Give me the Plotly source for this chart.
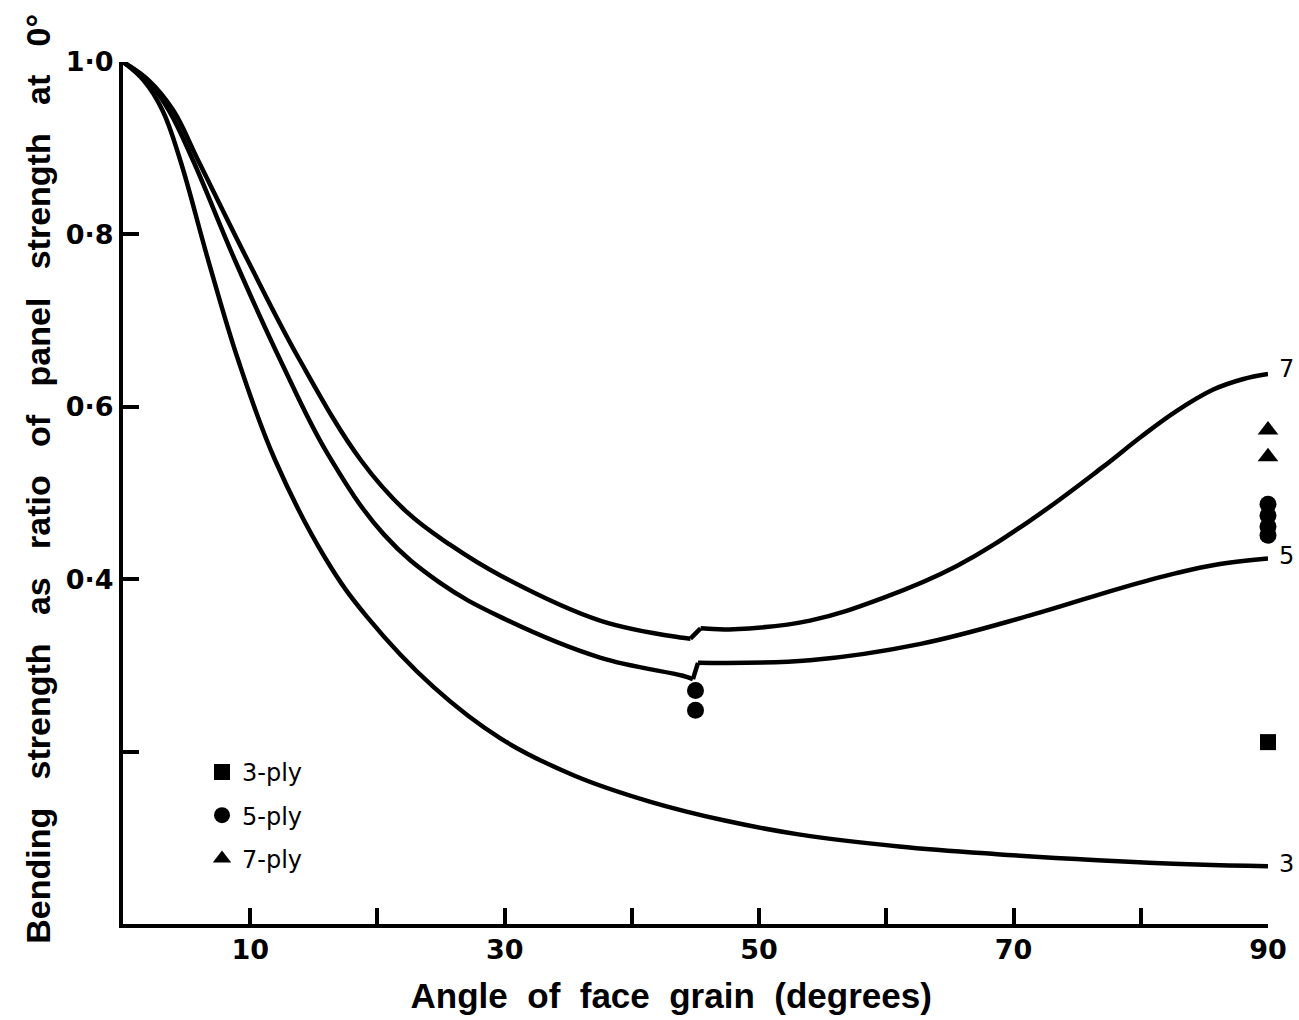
import plotly.graph_objects as go

# ---- data ----
angle_3 = [0, 1.6, 3.1, 4.5, 6.7, 9.06, 11.96, 16.0, 19.2, 24.4, 29.7, 35.5, 41.4, 47.3, 53.1, 61.0, 68.7, 76.6, 84.4, 90]
ratio_3 = [1.0, 0.979, 0.944, 0.886, 0.770, 0.654, 0.538, 0.422, 0.356, 0.275, 0.215, 0.172, 0.142, 0.120, 0.104, 0.090, 0.081, 0.074, 0.069, 0.067]

angle_5 = [0, 1.9, 3.6, 5.5, 8.8, 12.5, 16.1, 20.5, 24.9, 29.7, 37.5, 44.0, 44.8, 45.2, 54.0, 62.7, 71.3, 78.5, 82.8, 86.0, 90]
ratio_5 = [1.0, 0.979, 0.944, 0.886, 0.770, 0.650, 0.545, 0.452, 0.396, 0.356, 0.309, 0.288, 0.284, 0.303, 0.306, 0.325, 0.358, 0.390, 0.407, 0.417, 0.424]

angle_7 = [0, 2.0, 3.95, 5.9, 9.8, 13.9, 18.7, 22.3, 25.7, 29.7, 37.5, 44.0, 44.6, 45.4, 48.0, 54.0, 59.7, 65.5, 71.3, 77.0, 80.0, 82.8, 85.7, 88.0, 90]
ratio_7 = [1.0, 0.979, 0.944, 0.886, 0.770, 0.654, 0.538, 0.478, 0.440, 0.404, 0.352, 0.332, 0.331, 0.343, 0.342, 0.352, 0.378, 0.415, 0.468, 0.530, 0.565, 0.595, 0.620, 0.632, 0.638]

test3_angle = [90]
test3_ratio = [0.211]
test5_angle = [45, 45, 90, 90, 90, 90]
test5_ratio = [0.271, 0.248, 0.487, 0.474, 0.461, 0.451]
test7_angle = [90, 90]
test7_ratio = [0.573, 0.542]

curve_labels = ["3", "5", "7"]
legend_names = ["3-ply", "5-ply", "7-ply"]

x_tickvals = [10, 20, 30, 40, 50, 60, 70, 80, 90]
x_ticktext = ["10", "", "30", "", "50", "", "70", "", "90"]
y_tickvals = [0.2, 0.4, 0.6, 0.8, 1.0]
y_ticktext = ["", "0\u00b74", "0\u00b76", "0\u00b78", "1\u00b70"]

x_title = "Angle of face grain (degrees)"
y_title = "Bending strength as ratio of panel strength at 0\u00b0"

# ---- figure ----
INK = "#000000"
FONT = "Liberation Sans, Arial, sans-serif"
TICKFONT = "DejaVu Sans, Liberation Sans, sans-serif"
NB = "\u00a0"
ZW = "\u200b"

fig = go.Figure()


def add_curve(ang, rat):
    # split at the small step near 45 degrees (first rise in the data)
    step = None
    for i in range(1, len(rat) - 1):
        if rat[i + 1] > rat[i] + 0.005 and ang[i + 1] - ang[i] < 2:
            step = i
            break
    pieces = []
    if step is None:
        pieces.append((ang, rat, "spline"))
    else:
        pieces.append((ang[:step + 1], rat[:step + 1], "spline"))
        pieces.append((ang[step:step + 2], rat[step:step + 2], "linear"))
        pieces.append((ang[step + 1:], rat[step + 1:], "spline"))
    for a, r, shp in pieces:
        fig.add_trace(go.Scatter(
            x=a, y=r, mode="lines",
            line=dict(color=INK, width=4.5, shape=shp, smoothing=1.1),
            showlegend=False, hoverinfo="skip"))


for ang, rat in [(angle_3, ratio_3), (angle_5, ratio_5), (angle_7, ratio_7)]:
    add_curve(ang, rat)

symbols = ["square", "circle", "triangle-up"]
sizes = [16, 17, 18]
for name, xs, ys, sym, sz in zip(legend_names,
                                 [test3_angle, test5_angle, test7_angle],
                                 [test3_ratio, test5_ratio, test7_ratio],
                                 symbols, sizes):
    fig.add_trace(go.Scatter(
        x=xs, y=ys, mode="markers", name=name, legendgroup=name,
        marker=dict(symbol=sym, size=sz, color=INK, line=dict(width=0)),
        cliponaxis=False))

for lab, ang, rat, ysh in zip(curve_labels, [angle_3, angle_5, angle_7],
                              [ratio_3, ratio_5, ratio_7], [2, 3, 5]):
    fig.add_annotation(x=ang[-1], y=rat[-1], text=lab, showarrow=False,
                       xanchor="left", yanchor="middle", xshift=9, yshift=ysh,
                       font=dict(family=TICKFONT, size=24, color=INK))

fig.update_layout(
    width=1299, height=1020,
    margin=dict(l=123, r=31, t=62, b=96, autoexpand=False),
    paper_bgcolor="white", plot_bgcolor="white",
    font=dict(family=FONT, color=INK),
    showlegend=True,
    legend=dict(x=0.069, y=0.202, xanchor="left", yanchor="top",
                bgcolor="rgba(0,0,0,0)", tracegroupgap=9,
                font=dict(family=TICKFONT, size=24, color=INK)),
)

fig.update_xaxes(
    range=[0, 90], showgrid=False, zeroline=False,
    showline=True, linecolor=INK, linewidth=4,
    ticks="inside", ticklen=16, tickwidth=3.5, tickcolor=INK,
    tickvals=x_tickvals, ticktext=x_ticktext, ticklabelstandoff=-1,
    tickfont=dict(family=TICKFONT, size=27, color=INK, weight="bold"),
    title=dict(text=(NB * 2).join(x_title.split(" ")) + NB * 5 + ZW, standoff=20,
               font=dict(family=FONT, size=35, color=INK, weight="bold")),
)
fig.update_yaxes(
    range=[0, 1.0], showgrid=False, zeroline=False,
    showline=True, linecolor=INK, linewidth=4,
    ticks="inside", ticklen=16, tickwidth=3.5, tickcolor=INK,
    tickvals=y_tickvals, ticktext=y_ticktext, ticklabelstandoff=0,
    tickfont=dict(family=TICKFONT, size=27, color=INK, weight="bold"),
    title=dict(text=ZW + NB * 3 + (NB * 3).join(y_title.split(" ")), standoff=6,
               font=dict(family=FONT, size=34, color=INK, weight="bold")),
)

fig.write_html("out.html")
